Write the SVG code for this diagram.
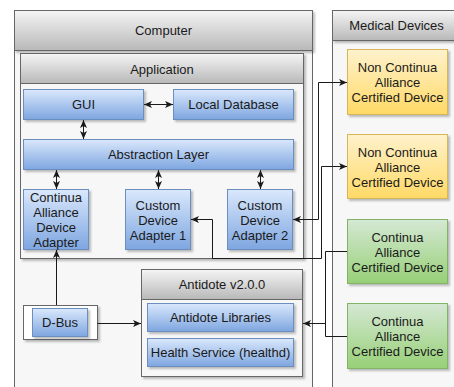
<svg xmlns="http://www.w3.org/2000/svg" width="454" height="387" viewBox="0 0 454 387">
<defs>
<linearGradient id="gGray" x1="0" y1="0" x2="0" y2="1"><stop offset="0" stop-color="#f5f5f5"/><stop offset="1" stop-color="#b8b8b8"/></linearGradient>
<linearGradient id="gBlue" x1="0" y1="0" x2="0" y2="1"><stop offset="0" stop-color="#dae8fc"/><stop offset="1" stop-color="#7ea6e0"/></linearGradient>
<linearGradient id="gYellow" x1="0" y1="0" x2="0" y2="1"><stop offset="0" stop-color="#fff2cc"/><stop offset="1" stop-color="#ffd966"/></linearGradient>
<linearGradient id="gGreen" x1="0" y1="0" x2="0" y2="1"><stop offset="0" stop-color="#d5e8d4"/><stop offset="1" stop-color="#97d077"/></linearGradient>
<filter id="sh" x="-10%" y="-10%" width="130%" height="130%"><feDropShadow dx="2" dy="2" stdDeviation="1" flood-color="#000" flood-opacity="0.25"/></filter>
<marker id="arr" viewBox="0 0 8 7" refX="8" refY="3.5" markerWidth="8" markerHeight="7" markerUnits="userSpaceOnUse" orient="auto-start-reverse"><path d="M0,0 L8,3.5 L0,7 L2,3.5 z" fill="#1a1a1a"/></marker>
</defs>
<style>
text{font-family:"Liberation Sans",Arial,sans-serif;font-size:13px;fill:#1a1a1a;text-anchor:middle;dominant-baseline:central}
.body{fill:#f7f7f7;stroke:#666;stroke-width:1}
.hdr{fill:url(#gGray);stroke:#666;stroke-width:1}
.blue{fill:url(#gBlue);stroke:#6c8ebf;stroke-width:1;filter:url(#sh)}
.yel{fill:url(#gYellow);stroke:#d6b656;stroke-width:1;filter:url(#sh)}
.grn{fill:url(#gGreen);stroke:#82b366;stroke-width:1;filter:url(#sh)}
.wht{fill:#ffffff;stroke:#666;stroke-width:1;filter:url(#sh)}
.c{fill:none;stroke:#1a1a1a;stroke-width:1}
.a2{marker-start:url(#arr);marker-end:url(#arr)}
.a1{marker-end:url(#arr)}
</style>
<g id="computer">
<rect class="body" x="14.5" y="10.5" width="298" height="390"/>
<rect class="hdr" x="14.5" y="10.5" width="298" height="40" filter="url(#sh)"/>
<text x="163.5" y="30.5">Computer</text>
</g>
<g id="application">
<rect class="body" x="20.5" y="53.5" width="283" height="205" filter="url(#sh)"/>
<rect class="hdr" x="20.5" y="53.5" width="283" height="30"/>
<text x="162" y="69">Application</text>
</g>
<g id="medical-devices">
<rect class="body" x="332.5" y="10.5" width="128" height="390"/>
<rect class="hdr" x="332.5" y="10.5" width="128" height="30" filter="url(#sh)"/>
<text x="396.5" y="25.5">Medical Devices</text>
</g>
<g id="gui"><rect class="blue" x="23.5" y="89.5" width="120" height="30"/><text x="83.5" y="104.5">GUI</text></g>
<g id="local-database"><rect class="blue" x="173.5" y="89.5" width="120" height="30"/><text x="233.5" y="104.5">Local Database</text></g>
<g id="abstraction-layer"><rect class="blue" x="23.5" y="139.5" width="270" height="30"/><text x="158.5" y="154.5">Abstraction Layer</text></g>
<g id="continua-adapter"><rect class="blue" x="23.5" y="189.5" width="65" height="60"/>
<text x="56" y="197">Continua</text><text x="56" y="212">Alliance</text><text x="56" y="227">Device</text><text x="56" y="242">Adapter</text></g>
<g id="custom-adapter-1"><rect class="blue" x="125.5" y="189.5" width="65" height="60"/>
<text x="158" y="205">Custom</text><text x="158" y="220">Device</text><text x="158" y="235">Adapter 1</text></g>
<g id="custom-adapter-2"><rect class="blue" x="227.5" y="189.5" width="65" height="60"/>
<text x="260" y="205">Custom</text><text x="260" y="220">Device</text><text x="260" y="235">Adapter 2</text></g>
<g id="dbus">
<rect class="wht" x="23.5" y="305.5" width="74" height="34"/>
<rect class="blue" x="32.5" y="308.5" width="55" height="28"/>
<text x="60" y="322.5">D-Bus</text>
</g>
<g id="antidote">
<rect class="body" x="141.5" y="269.5" width="161" height="107" filter="url(#sh)"/>
<rect class="hdr" x="141.5" y="269.5" width="161" height="30"/>
<text x="222" y="284.5">Antidote v2.0.0</text>
</g>
<g id="antidote-libraries"><rect class="blue" x="147.5" y="303.5" width="146" height="28"/><text x="220.5" y="317.5">Antidote Libraries</text></g>
<g id="health-service"><rect class="blue" x="147.5" y="338.5" width="146" height="28"/><text x="220.5" y="352.5">Health Service (healthd)</text></g>
<g id="non-continua-1"><rect class="yel" x="347.5" y="49.5" width="100" height="65"/>
<text x="397.5" y="67.5">Non Continua</text><text x="397.5" y="82">Alliance</text><text x="397.5" y="97">Certified Device</text></g>
<g id="non-continua-2"><rect class="yel" x="347.5" y="134.5" width="100" height="64"/>
<text x="397.5" y="152">Non Continua</text><text x="397.5" y="167">Alliance</text><text x="397.5" y="182">Certified Device</text></g>
<g id="continua-1"><rect class="grn" x="347.5" y="219.5" width="100" height="64"/>
<text x="397.5" y="237">Continua</text><text x="397.5" y="252">Alliance</text><text x="397.5" y="267">Certified Device</text></g>
<g id="continua-2"><rect class="grn" x="347.5" y="303.5" width="100" height="65"/>
<text x="397.5" y="321.5">Continua</text><text x="397.5" y="336">Alliance</text><text x="397.5" y="351">Certified Device</text></g>
<g id="connectors">
<path class="c a2" d="M144,104.5 H173"/>
<path class="c a2" d="M83.5,120 V139"/>
<path class="c a2" d="M56.5,170 V189"/>
<path class="c a2" d="M158.5,170 V189"/>
<path class="c a2" d="M260.5,170 V189"/>
<path class="c a1" d="M56.5,305 V250"/>
<path class="c a1" d="M97.5,323.5 H141"/>
<path class="c a2" d="M293,219.5 H318.5 V82.5 H347"/>
<path class="c a2" d="M191,219.5 H212.5 V258.5 H321.5 V166.5 H347"/>
<path class="c" d="M347,251.5 H325.5 V336.5 H347"/>
<path class="c a1" d="M325.5,323.5 H303"/>
</g>
</svg>
